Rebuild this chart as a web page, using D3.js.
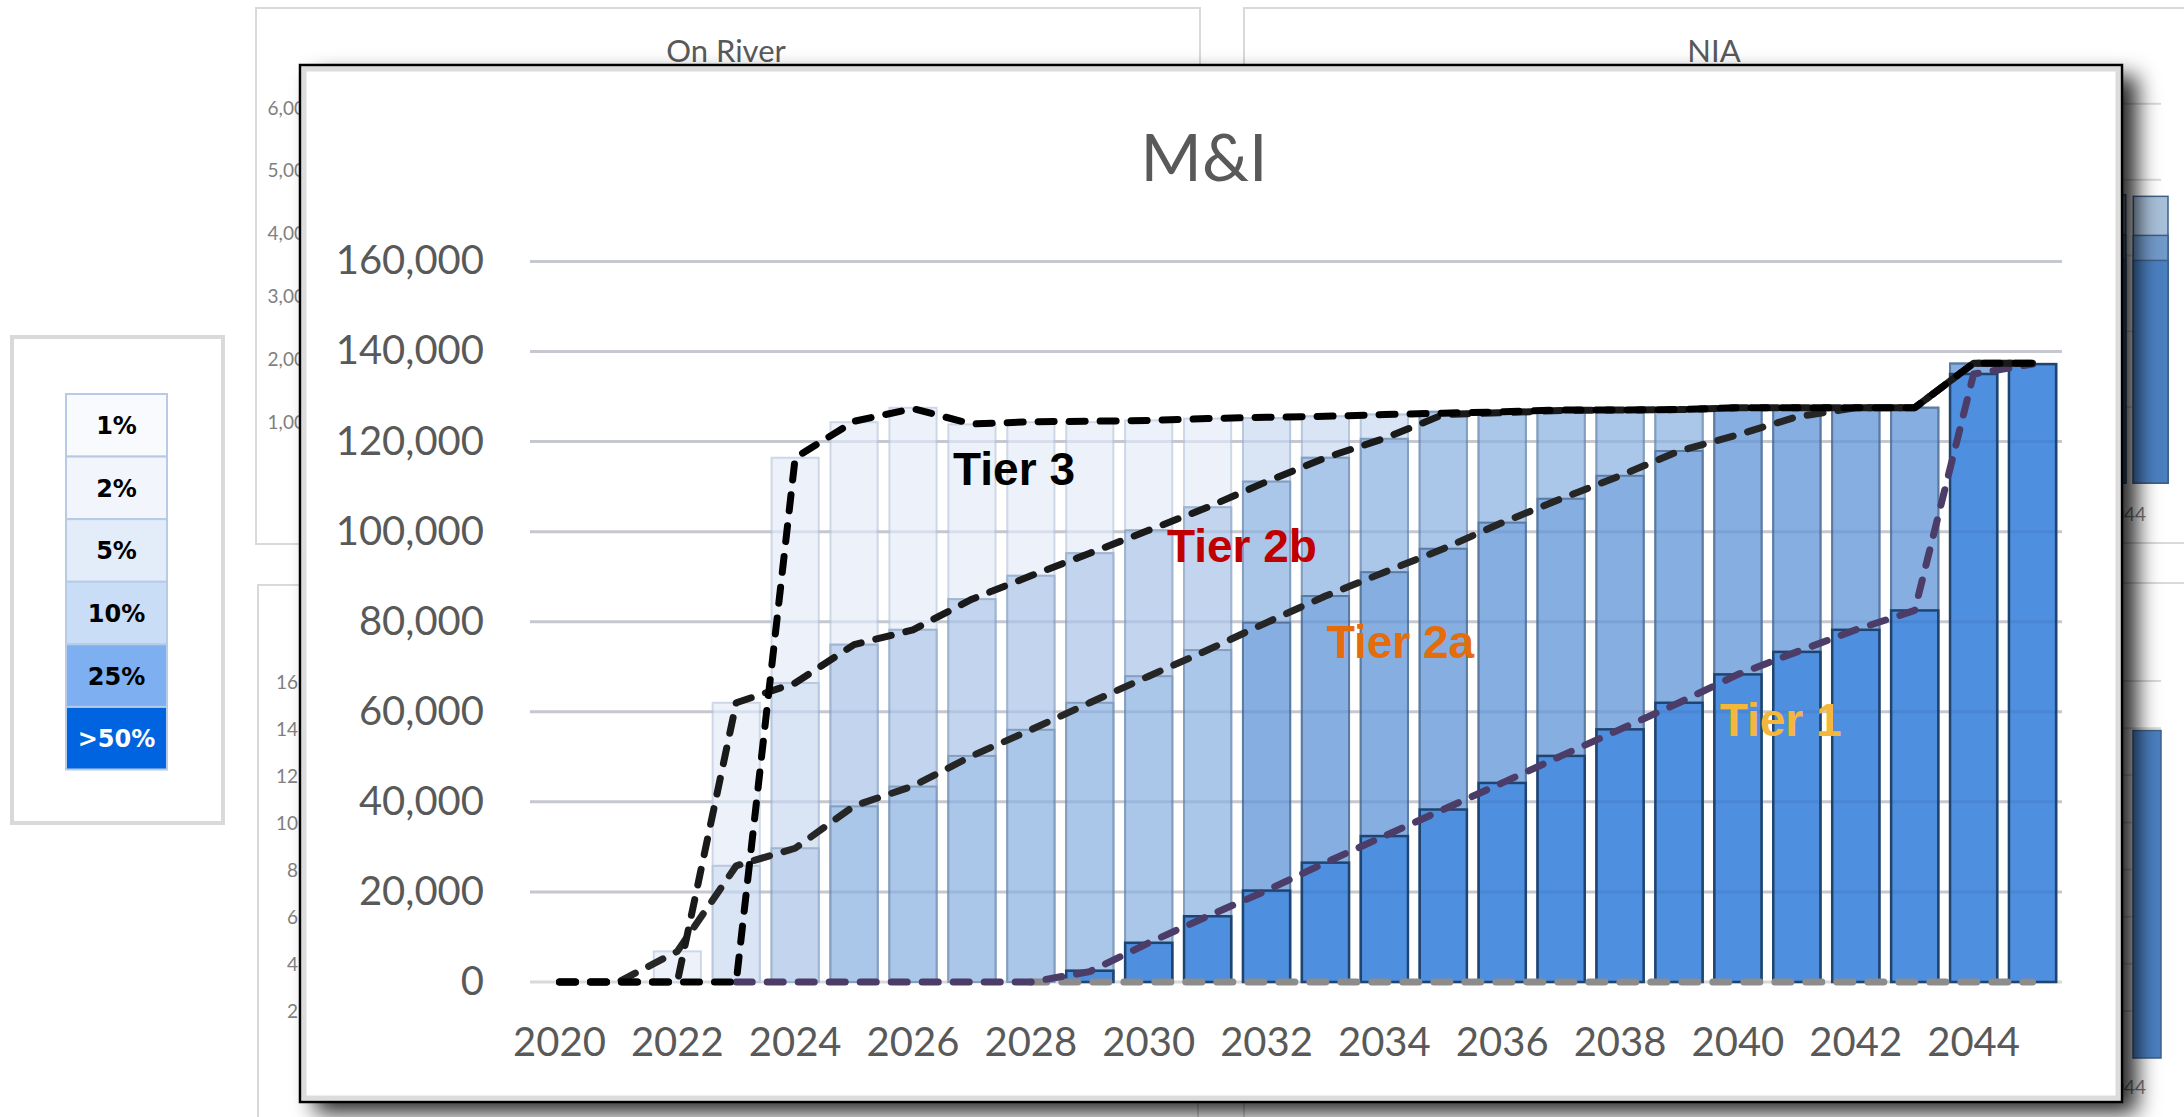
<!DOCTYPE html>
<html lang="en">
<head>
    <meta charset="UTF-8">
    <title>M&amp;I</title>
    <script src="https://d3js.org/d3.v7.min.js"></script>
    <style>
        html, body { margin: 0; background: #fff; }
        svg { display: block; }
    </style>
</head>
<body>
<div id="vis"></div>
<script>
    // ---- data ----
    var years = [2020, 2021, 2022, 2023, 2024, 2025, 2026, 2027, 2028, 2029, 2030, 2031, 2032,
                 2033, 2034, 2035, 2036, 2037, 2038, 2039, 2040, 2041, 2042, 2043, 2044, 2045];
    var xTickYears = [2020, 2022, 2024, 2026, 2028, 2030, 2032, 2034, 2036, 2038, 2040, 2042, 2044];
    var yTicks = [0, 20000, 40000, 60000, 80000, 100000, 120000, 140000, 160000];

    var pctLabels = ["1%", "2%", "5%", "10%", "25%", ">50%"];
    // overlapping bars, one value per year for each exceedance level
    var pct1  = [0, 0, 6800, 62000, 116400, 124300, 127500, 123800, 124300, 124300, 124700, 125100, 125200,
                 125600, 126000, 126600, 126800, 127000, 127000, 127100, 127500, 127500, 127500, 127500, 137300, 137200];
    var pct2  = [0, 0, 0, 25800, 66400, 74900, 78200, 85000, 90200, 95200, 100300, 105400, 125200,
                 125600, 126000, 126600, 126800, 127000, 127000, 127100, 127500, 127500, 127500, 127500, 137300, 137200];
    var pct5  = [0, 0, 0, 0, 29700, 74900, 78200, 85000, 90200, 95200, 100300, 105400, 111100,
                 116400, 120600, 126600, 126800, 127000, 127000, 127100, 127500, 127500, 127500, 127500, 137300, 137200];
    var pct10 = [0, 0, 0, 0, 0, 39000, 43400, 50200, 56000, 62000, 67900, 73700, 111100,
                 116400, 120600, 126600, 126800, 127000, 127000, 127100, 127500, 127500, 127500, 127500, 137300, 137200];
    var pct25 = [0, 0, 0, 0, 0, 0, 0, 0, 0, 2500, 8700, 14600, 79800,
                 85700, 91000, 96200, 102000, 107300, 112400, 117900, 127500, 127500, 127500, 127500, 137300, 137200];
    var pct50 = [0, 0, 0, 0, 0, 0, 0, 0, 0, 2500, 8700, 14600, 20300,
                 26500, 32400, 38300, 44200, 50200, 56100, 62000, 68300, 73300, 78200, 82500, 135000, 137200];

    // tier curves
    var tier3  = [0, 0, 0, 0, 116400, 124500, 127300, 123900, 124400, 124500, 124700, 125100, 125400,
                  125600, 126000, 126300, 126600, 127000, 127000, 127100, 127500, 127500, 127500, 127500, 137400, 137400];
    var tier2b = [0, 0, 0, 62000, 66400, 74900, 78200, 85000, 90200, 95200, 100300, 105400, 111100,
                  116400, 120700, 126000, 126400, 126900, 127000, 127100, 127500, 127500, 127500, 127500, 137400, 137400];
    var tier2a = [0, 0, 6800, 25800, 29700, 39100, 43500, 50200, 56000, 62000, 67900, 73700, 79800,
                  85700, 91000, 96200, 102000, 107300, 112400, 117900, 121500, 125500, 127500, 127500, 137400, 137400];
    var tier1  = [null, null, null, 0, 0, 0, 0, 0, 0, 2300, 8700, 14600, 20300,
                  26500, 32400, 38300, 44200, 50200, 56100, 62000, 68300, 73300, 78200, 82500, 135000, 137200];
    var zeroLine = [null, null, null, null, null, null, null, null, 0, 0, 0, 0, 0,
                    0, 0, 0, 0, 0, 0, 0, 0, 0, 0, 0, 0, 0];

    var tierLabels = [
        {text: "Tier 3",  year: 2026.68, value: 110300, color: "#000000"},
        {text: "Tier 2b", year: 2030.31, value: 93200,  color: "#c00000"},
        {text: "Tier 2a", year: 2033.02, value: 71900,  color: "#e46c0a"},
        {text: "Tier 1",  year: 2039.69, value: 54600,  color: "#f5b73b"}
    ];

    // faded charts behind the main one
    var onRiverTicks = [1000, 2000, 3000, 4000, 5000, 6000];
    var niaGrid = [1000, 2000, 3000, 4000, 5000];
    var lowerTicks = [2, 4, 6, 8, 10, 12, 14, 16];
    var niaBars = [[2950, 3270, 3800], [2935, 3265, 3780]];
    var lowerRightBars = [13.9];

    // ---- layout ----
    var W = 2184, H = 1117;
    var box = {x: 300, y: 65, w: 1822, h: 1037};
    var plot = {left: 530, right: 2062, top: 261.4, bottom: 982};

    var barColors  = ["#edf2fa", "#d9e4f4", "#c3d5ee", "#aac6e8", "#86aee1", "#4f8fdf"];
    var barStrokes = ["#cdd7e6", "#b8c8de", "#9fb5d0", "#839ebf", "#5b7ba0", "#1f4470"];
    var legendColors = ["#f8fafd", "#f2f6fc", "#e3edfa", "#c9ddf6", "#7eaff0", "#0064e1"];

    var svg = d3.select('#vis').append('svg')
        .attr('width', W)
        .attr('height', H);

    var defs = svg.append('defs');
    var filt = defs.append('filter').attr('id', 'shadow')
        .attr('x', '-5%').attr('y', '-10%').attr('width', '115%').attr('height', '125%');
    filt.append('feDropShadow')
        .attr('dx', 15).attr('dy', 11).attr('stdDeviation', 11)
        .attr('flood-color', '#000').attr('flood-opacity', 0.85);

    /*
     *  BACKGROUND PANELS
     */
    var bg = svg.append('g');

    // On River
    bg.append('rect').attr('x', 256).attr('y', 8).attr('width', 944).attr('height', 536)
        .attr('fill', '#fff').attr('stroke', '#d9d9d9').attr('stroke-width', 2);
    bg.append('text').attr('x', 726).attr('y', 62).attr('text-anchor', 'middle')
        .attr('font-family', 'Lato, sans-serif').attr('font-size', 31).attr('fill', '#595959')
        .text('On River');
    var onRiverY = d3.scaleLinear().domain([1000, 6000]).range([421, 107]);
    bg.selectAll('.orTick').data(onRiverTicks).enter().append('text')
        .attr('x', 316).attr('y', function(d){ return onRiverY(d); })
        .attr('text-anchor', 'end').attr('dominant-baseline', 'central')
        .attr('font-family', 'Lato, sans-serif').attr('font-size', 19).attr('fill', '#7f7f7f')
        .text(d3.format(','));

    // NIA
    bg.append('rect').attr('x', 1244).attr('y', 8).attr('width', 1000).attr('height', 535)
        .attr('fill', '#fff').attr('stroke', '#d9d9d9').attr('stroke-width', 2);
    bg.append('text').attr('x', 1714).attr('y', 62).attr('text-anchor', 'middle')
        .attr('font-family', 'Lato, sans-serif').attr('font-size', 31).attr('fill', '#595959')
        .text('NIA');
    var niaY = d3.scaleLinear().domain([0, 6000]).range([483, 28]);
    bg.selectAll('.niaGrid').data(niaGrid).enter().append('line')
        .attr('x1', 1300).attr('x2', 2161)
        .attr('y1', function(d){ return niaY(d); }).attr('y2', function(d){ return niaY(d); })
        .attr('stroke', '#d9d9d9').attr('stroke-width', 2);
    var niaX = d3.scaleBand().domain([0, 1]).range([2091, 2168]).paddingInner(0.18);
    var niaShades = ["#a8bfd9", "#7199c9", "#4a7fc0"];
    niaBars.forEach(function(stack, i) {
        stack.slice().reverse().forEach(function(v, k) {
            bg.append('rect')
                .attr('x', niaX(i)).attr('width', niaX.bandwidth())
                .attr('y', niaY(v)).attr('height', niaY(0) - niaY(v))
                .attr('fill', niaShades[k]).attr('stroke', '#3d5f88').attr('stroke-width', 1.5);
        });
    });
    bg.append('text').attr('x', 2146).attr('y', 513).attr('text-anchor', 'end')
        .attr('dominant-baseline', 'central')
        .attr('font-family', 'Lato, sans-serif').attr('font-size', 19).attr('fill', '#7f7f7f')
        .text('2044');

    // lower panels
    var lowerY = d3.scaleLinear().domain([0, 16]).range([1058, 681]);
    bg.append('rect').attr('x', 258).attr('y', 585).attr('width', 940).attr('height', 600)
        .attr('fill', '#fff').attr('stroke', '#d9d9d9').attr('stroke-width', 2);
    bg.selectAll('.lowTick').data(lowerTicks).enter().append('text')
        .attr('x', 298).attr('y', function(d){ return lowerY(d); })
        .attr('text-anchor', 'end').attr('dominant-baseline', 'central')
        .attr('font-family', 'Lato, sans-serif').attr('font-size', 19).attr('fill', '#7f7f7f')
        .text(function(d){ return d; });

    bg.append('rect').attr('x', 1244).attr('y', 583).attr('width', 1000).attr('height', 600)
        .attr('fill', '#fff').attr('stroke', '#d9d9d9').attr('stroke-width', 2);
    bg.selectAll('.lowGrid').data(lowerTicks).enter().append('line')
        .attr('x1', 1300).attr('x2', 2161)
        .attr('y1', function(d){ return lowerY(d); }).attr('y2', function(d){ return lowerY(d); })
        .attr('stroke', '#d9d9d9').attr('stroke-width', 2);
    lowerRightBars.forEach(function(v) {
        bg.append('rect').attr('x', 2133).attr('width', 28)
            .attr('y', lowerY(v)).attr('height', lowerY(0) - lowerY(v))
            .attr('fill', '#4a7fc0').attr('stroke', '#3d5f88').attr('stroke-width', 1.5);
    });
    bg.append('text').attr('x', 2146).attr('y', 1086).attr('text-anchor', 'end')
        .attr('dominant-baseline', 'central')
        .attr('font-family', 'Lato, sans-serif').attr('font-size', 19).attr('fill', '#7f7f7f')
        .text('2044');

    /*
     *  LEGEND
     */
    var leg = svg.append('g');
    leg.append('rect').attr('x', 12).attr('y', 337).attr('width', 211).attr('height', 486)
        .attr('fill', '#fff').attr('stroke', '#d9d9d9').attr('stroke-width', 4);
    var legY = d3.scaleBand().domain(pctLabels).range([394, 769.5]);
    leg.selectAll('.cell').data(pctLabels).enter().append('rect')
        .attr('x', 66).attr('width', 101)
        .attr('y', function(d){ return legY(d); }).attr('height', legY.bandwidth())
        .attr('fill', function(d, i){ return legendColors[i]; })
        .attr('stroke', '#b7cbe6').attr('stroke-width', 2);
    leg.selectAll('.ltxt').data(pctLabels).enter().append('text')
        .attr('x', 116.5).attr('y', function(d){ return legY(d) + legY.bandwidth() / 2 + 1; })
        .attr('text-anchor', 'middle').attr('dominant-baseline', 'central')
        .attr('font-family', '"DejaVu Sans", sans-serif').attr('font-weight', 'bold').attr('font-size', 24)
        .attr('fill', function(d, i){ return i === 5 ? '#fff' : '#000'; })
        .text(function(d){ return d; });

    /*
     *  MAIN CHART
     */
    var main = svg.append('g');
    main.append('rect').attr('x', box.x).attr('y', box.y).attr('width', box.w).attr('height', box.h)
        .attr('fill', '#fff').attr('filter', 'url(#shadow)');
    main.append('rect').attr('x', box.x + 4).attr('y', box.y + 4).attr('width', box.w - 8).attr('height', box.h - 8)
        .attr('fill', 'none').attr('stroke', '#dcdcdc').attr('stroke-width', 5);
    main.append('rect').attr('x', box.x).attr('y', box.y).attr('width', box.w).attr('height', box.h)
        .attr('fill', 'none').attr('stroke', '#000').attr('stroke-width', 2.5);

    main.append('text').attr('x', 1204).attr('y', 181).attr('text-anchor', 'middle')
        .attr('font-family', 'Lato, sans-serif').attr('font-weight', 400).attr('font-size', 66)
        .attr('fill', '#595959').text('M&I');

    var x = d3.scaleBand().domain(years).range([plot.left, plot.right])
        .paddingInner(0.2).paddingOuter(0.1);
    var y = d3.scaleLinear().domain([0, 160000]).range([plot.bottom, plot.top]);
    var xc = function(yr){ return x(yr) + x.bandwidth() / 2; };
    var xYear = d3.scaleLinear().domain([years[0], years[years.length - 1]])
        .range([xc(years[0]), xc(years[years.length - 1])]);

    main.selectAll('.grid').data(yTicks).enter().append('line')
        .attr('x1', plot.left).attr('x2', plot.right)
        .attr('y1', function(d){ return y(d); }).attr('y2', function(d){ return y(d); })
        .attr('stroke', '#d9d9d9').attr('stroke-width', 3);

    var series = [pct1, pct2, pct5, pct10, pct25, pct50];
    series.forEach(function(vals, k) {
        var recs = years.map(function(yr, i){ return {year: yr, v: vals[i]}; })
            .filter(function(d){ return d.v > 0; });
        main.selectAll('.bar' + k).data(recs).enter().append('rect')
            .attr('x', function(d){ return x(d.year); })
            .attr('width', x.bandwidth())
            .attr('y', function(d){ return y(d.v); })
            .attr('height', function(d){ return y(0) - y(d.v); })
            .attr('fill', barColors[k])
            .attr('stroke', barStrokes[k])
            .attr('stroke-width', k === 5 ? 2.5 : 2);
    });

    // gridlines showing through the bars
    main.selectAll('.grid2').data(yTicks.slice(1)).enter().append('line')
        .attr('x1', plot.left).attr('x2', plot.right)
        .attr('y1', function(d){ return y(d); }).attr('y2', function(d){ return y(d); })
        .attr('stroke', 'rgba(30,60,120,0.10)').attr('stroke-width', 3);

    var line = d3.line()
        .defined(function(d){ return d != null; })
        .x(function(d, i){ return xc(years[i]); })
        .y(function(d){ return y(d); });

    var lines = [
        {vals: zeroLine, color: '#8c8c8c'},
        {vals: tier1,  color: '#4b3c68'},
        {vals: tier2a, color: '#262626'},
        {vals: tier2b, color: '#1a1a1a'},
        {vals: tier3,  color: '#000000'}
    ];
    lines.forEach(function(l) {
        main.append('path')
            .attr('d', line(l.vals))
            .attr('fill', 'none')
            .attr('stroke', l.color)
            .attr('stroke-width', 7)
            .attr('stroke-linecap', 'round')
            .attr('stroke-linejoin', 'round')
            .attr('stroke-dasharray', '16,15');
    });

    main.selectAll('.ylab').data(yTicks).enter().append('text')
        .attr('x', 484).attr('y', function(d){ return y(d) - 2; })
        .attr('text-anchor', 'end').attr('dominant-baseline', 'central')
        .attr('font-family', 'Lato, sans-serif').attr('font-size', 40).attr('fill', '#595959')
        .text(d3.format(','));

    main.selectAll('.xlab').data(xTickYears).enter().append('text')
        .attr('x', function(d){ return xc(d); }).attr('y', 1041)
        .attr('text-anchor', 'middle').attr('dominant-baseline', 'central')
        .attr('font-family', 'Lato, sans-serif').attr('font-size', 40).attr('fill', '#595959')
        .text(function(d){ return d; });

    main.selectAll('.tier').data(tierLabels).enter().append('text')
        .attr('x', function(d){ return xYear(d.year); })
        .attr('y', function(d){ return y(d.value); })
        .attr('font-family', '"Liberation Sans", Arial, sans-serif').attr('font-weight', 'bold')
        .attr('font-size', 46)
        .attr('fill', function(d){ return d.color; })
        .text(function(d){ return d.text; });
</script>
</body>
</html>
